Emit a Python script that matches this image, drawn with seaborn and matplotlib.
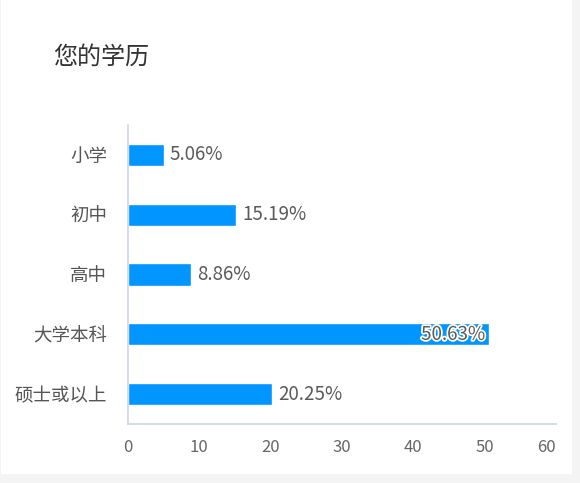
import numpy as np
import pandas as pd
import seaborn as sns
import matplotlib.pyplot as plt
import matplotlib.patheffects as pe
import matplotlib.transforms as mtransforms
from matplotlib.patches import Rectangle

# data
categories = ["小学", "初中", "高中", "大学本科", "硕士或以上"]
percents = [5.06, 15.19, 8.86, 50.63, 20.25]
x_ticks = [0, 10, 20, 30, 40, 50, 60]

df = pd.DataFrame({"edu": categories, "pct": percents})

sns.set_style("white")
plt.rcParams["font.family"] = ["Noto Sans CJK SC", "DejaVu Sans"]

fig = plt.figure(figsize=(5.8, 4.83), dpi=100, facecolor="#f4f4f4")
# white card behind everything
fig.patches.append(Rectangle((0.002, 0.019), 0.985, 0.981, transform=fig.transFigure,
                             facecolor="white", edgecolor="none", zorder=-1))

ax = fig.add_axes([0.2207, 0.1222, 0.7379, 0.619])
ax.set_zorder(1)
ax.set_facecolor("none")
sns.barplot(data=df, y="edu", x="pct", orient="h", color="#0095ff",
            saturation=1, width=0.37, ax=ax)

for i, v in enumerate(percents):
    if v > 40:
        ax.annotate(f"{v:.2f}%", (v, i), xytext=(-3, 0), textcoords="offset points",
                    ha="right", va="center", fontsize=13.5, color="#5a5a5a",
                    path_effects=[pe.withStroke(linewidth=2.5, foreground="white")])
    else:
        ax.annotate(f"{v:.2f}%", (v, i), xytext=(4, 0), textcoords="offset points",
                    ha="left", va="center", fontsize=13.5, color="#5a5a5a")

ax.set_xlim(0, 60)
ax.set_xticks(x_ticks)
ax.set_xlabel("")
ax.set_ylabel("")
ax.tick_params(axis="x", labelsize=12, labelcolor="#666666", length=0, pad=11)
ax.tick_params(axis="y", labelsize=13.3, labelcolor="#555555", length=0, pad=15)
for s in ["top", "right"]:
    ax.spines[s].set_visible(False)
for s in ["left", "bottom"]:
    ax.spines[s].set_color("#cdd6ea")
    ax.spines[s].set_linewidth(1.2)

# last tick label sits a bit inside, like the original
last = ax.get_xticklabels()[-1]
last.set_transform(last.get_transform() +
                   mtransforms.ScaledTranslation(-10 / 100, 0, fig.dpi_scale_trans))

fig.text(0.091, 0.882, "您的学历", fontsize=17.3, color="#333333", ha="left", va="center")

fig.savefig("out.png", dpi=100, facecolor=fig.get_facecolor())
